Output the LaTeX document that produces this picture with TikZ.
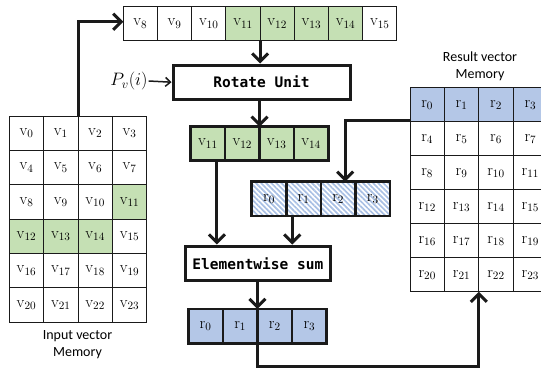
\RequirePackage{fix-cm}
\documentclass[tikz,border=0pt]{standalone}
\usepackage{fontspec}
\newfontfamily\monofnt{DejaVu Sans Mono}
\newfontfamily\sansfnt{Carlito}
\usetikzlibrary{arrows.meta,patterns.meta}
\definecolor{gfill}{HTML}{C5E0B4}
\definecolor{bfill}{HTML}{B4C7E7}
\definecolor{sfill}{HTML}{A9C0E4}
\definecolor{ink}{HTML}{1A1A1A}
\begin{document}
\begin{tikzpicture}[x=1pt,y=-1pt,
  cell/.style={draw=ink, line width=0.9pt, inner sep=0pt, outer sep=0pt,
    minimum width=34.35pt, minimum height=34.35pt, font=\fontsize{16}{19}\selectfont},
  thickcell/.style={cell, line width=2.6pt, minimum width=34.5pt},
  unitbox/.style={draw=ink, line width=3pt, fill=white, inner sep=0pt,
    font=\monofnt\bfseries\fontsize{14.5}{17}\selectfont},
  arr/.style={draw=ink, line width=3pt, -{Straight Barb[length=8pt,width=16pt,line width=3pt]}},
  lbl/.style={font=\sansfnt\fontsize{14}{17}\selectfont, align=center}
]
\useasboundingbox (0,0) rectangle (541,370);

% input vector memory
\foreach \k in {0,...,23}{
  \pgfmathtruncatemacro\row{div(\k,4)}
  \pgfmathtruncatemacro\col{mod(\k,4)}
  \pgfmathtruncatemacro\isg{and(\k>10,\k<15)}
  \ifnum\isg=1 \def\cf{gfill}\else\def\cf{white}\fi
  \node[cell, fill=\cf] (in-\k) at ({9.3+34.35*(\col+0.5)}, {116+34.33*(\row+0.5)}) {$\mathrm{v}_{\k}$};
}
\node[lbl] (inlbl) at (77.5,345) {Input vector\\Memory};

% top vector
\foreach \k in {8,...,15}{
  \pgfmathtruncatemacro\isg{and(\k>10,\k<15)}
  \ifnum\isg=1 \def\cf{gfill}\else\def\cf{white}\fi
  \node[cell, fill=\cf, minimum width=34.2pt, minimum height=34pt] (tv-\k) at ({123.3+34.2*(\k-8+0.5)}, 23.7) {$\mathrm{v}_{\k}$};
}

% rotate unit
\node[unitbox, minimum width=177pt, minimum height=34.3pt] (rot) at (261.5,82.2) {Rotate Unit};
\node[font=\fontsize{18}{20}\selectfont, inner sep=1pt] (pv) at (129,81) {$P_v(i)$};

% green rotated vector
\foreach \k in {11,...,14}{
  \node[thickcell, fill=gfill, minimum height=33.6pt] (gv-\k) at ({190.7+34.4*(\k-11+0.5)}, 143.5) {$\mathrm{v}_{\k}$};
}

% striped partial result
\foreach \k in {0,...,3}{
  \node[thickcell, pattern={Lines[angle=-45,distance=3.6pt,line width=1.7pt]}, pattern color=sfill, minimum height=34.3pt] (sv-\k) at ({251.7+34.6*(\k+0.5)}, 198.85) {$\mathrm{r}_{\k}$};
}

% elementwise sum
\node[unitbox, minimum width=144.3pt, minimum height=34.7pt] (sum) at (257.85,263.35) {Elementwise sum};

% bottom result vector
\foreach \k in {0,...,3}{
  \node[thickcell, fill=bfill, minimum height=34.3pt] (bv-\k) at ({188.3+34.6*(\k+0.5)}, 326.15) {$\mathrm{r}_{\k}$};
}

% result vector memory
\foreach \k in {0,...,23}{
  \pgfmathtruncatemacro\row{div(\k,4)}
  \pgfmathtruncatemacro\col{mod(\k,4)}
  \ifnum\k<4 \def\cf{bfill}\else\def\cf{white}\fi
  \node[cell, fill=\cf, minimum width=34.4pt, minimum height=34pt] (res-\k) at ({410+34.4*(\col+0.5)}, {87.7+34*(\row+0.5)}) {$\mathrm{r}_{\k}$};
}
\node[lbl] (reslbl) at (480,66.5) {Result vector\\Memory};

% connectors
\draw[arr] (in-1.north east) |- ([yshift=2pt]tv-8.west);
\draw[arr] (tv-11.south east) -- (tv-11.south east |- rot.north);
\draw[line width=1.5pt, draw=ink, -{Straight Barb[length=5pt,width=9pt,line width=1.5pt]}] (pv.east) -- (rot.west);
\draw[arr] (rot.south -| gv-12.north east) -- (gv-12.north east);
\draw[arr] ([xshift=9pt]gv-11.south) -- ([xshift=9pt]gv-11.south |- sum.north);
\draw[arr] ([xshift=6pt]sv-0.south east) -- ([xshift=6pt]sv-0.south east |- sum.north);
\draw[arr] (sum.south -| bv-1.north east) -- (bv-1.north east);
\draw[arr] (bv-1.south east) -- ++(0,22.7) -| (res-21.south east);
\draw[arr] ([yshift=1.5pt]res-0.south west) -| ([xshift=7pt]sv-2.north);
\end{tikzpicture}
\end{document}
